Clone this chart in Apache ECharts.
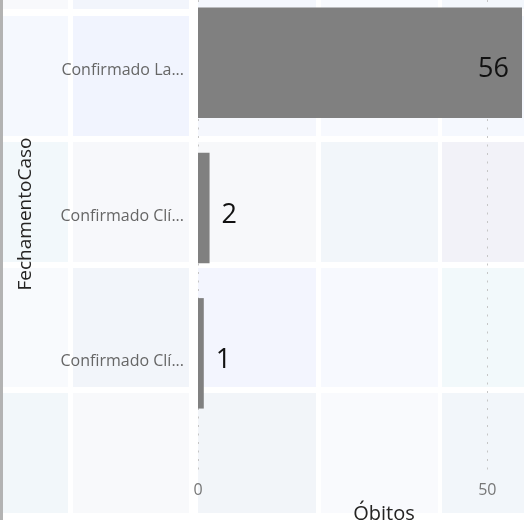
<!DOCTYPE html>
<html>
<head>
<meta charset="utf-8">
<script src="https://cdn.jsdelivr.net/npm/echarts@6/dist/echarts.min.js"></script>
<style>
  html, body { margin: 0; padding: 0; background: #ffffff; }
  #chart { width: 524px; height: 520px; }
</style>
</head>
<body>
<div id="chart"></div>
<script>
// ---- data ----
const categories = ['Confirmado Laboratorial', 'Confirmado Clínico-Epidemiológico', 'Confirmado Clínico-Imagem'];
const obitos = [56, 2, 1];
const xAxisTitle = 'Óbitos';
const yAxisTitle = 'FechamentoCaso';

// ---- decorative background mosaic ----
const tileCols = [[3, 68], [73, 189], [198, 316], [321, 438], [442, 530]];
const tileRows = [[-120, 9], [16, 136], [142, 262], [268, 387], [393, 513], [520, 640]];
const tileColors = [
  ['#f8f9fc', '#f2f5fc', '#f4f7fd', '#f8fafe', '#f3f7fc'],
  ['#f5f8fe', '#f1f4fe', '#f5f7fd', '#f7f9fe', '#f5f8fe'],
  ['#f2f8fb', '#f7f8fb', '#f7f8fa', '#f2f6fa', '#f2f2f8'],
  ['#f8fafd', '#f2f5fa', '#f3f5fe', '#f7f9fe', '#f2f9fb'],
  ['#f2f7fa', '#f8f9fb', '#f2f5f9', '#f9fafd', '#f2f6fa'],
  ['#f7f8fb', '#f3f6fb', '#f7f9fc', '#f3f7fb', '#f8f9fc']
];
const graphics = [];
tileRows.forEach((r, ri) => {
  tileCols.forEach((c, ci) => {
    graphics.push({
      type: 'rect', z: -100, silent: true,
      shape: { x: c[0], y: r[0], width: c[1] - c[0], height: r[1] - r[0] },
      style: { fill: tileColors[ri][ci] }
    });
  });
});
graphics.push({
  type: 'rect', z: -90, silent: true,
  shape: { x: 0, y: 0, width: 3, height: 520 },
  style: { fill: '#b3b3b3' }
});

const FONT = "'Open Sans', 'Noto Sans', sans-serif";
const chart = echarts.init(document.getElementById('chart'), null, { renderer: 'canvas' });

const barData = obitos.map(v => ({
  value: v,
  label: {
    position: v > 10 ? 'insideRight' : 'right',
    distance: v > 10 ? 13 : 12
  }
}));

chart.setOption({
  backgroundColor: 'transparent',
  animation: false,
  graphic: { elements: graphics },
  grid: [
    { left: 198, right: 2, top: -10, height: 436, containLabel: false, outerBoundsMode: 'none' },
    { left: 198, right: 2, top: 0, bottom: 47, containLabel: false, outerBoundsMode: 'none' }
  ],
  xAxis: [
    { gridIndex: 0, type: 'value', min: 0, max: 56, show: false },
    {
      gridIndex: 1, type: 'value', min: 0, max: 56, interval: 50,
      axisLine: { show: false }, axisTick: { show: false },
      axisLabel: { color: '#777777', fontFamily: FONT, fontSize: 16, margin: 9, showMaxLabel: false },
      splitLine: { show: true, showMaxLine: false, lineStyle: { color: '#c6c6c6', width: 1, type: [2, 6.5] } },
      name: xAxisTitle, nameLocation: 'middle', nameGap: 31,
      nameTextStyle: { color: '#252423', fontFamily: FONT, fontSize: 20, padding: [0, 0, 0, 48] }
    }
  ],
  yAxis: [
    {
      gridIndex: 0, type: 'category', inverse: true, data: categories,
      axisLine: { show: false }, axisTick: { show: false }, splitLine: { show: false },
      axisLabel: {
        color: '#666666', fontFamily: FONT, fontSize: 16, margin: 14,
        width: 134, overflow: 'truncate', ellipsis: '...',
        verticalAlign: 'top', lineHeight: 16
      },
      name: yAxisTitle, nameLocation: 'middle', nameGap: 151,
      nameTextStyle: { color: '#252423', fontFamily: FONT, fontSize: 19, padding: [0, 12, 12, 0] }
    },
    { gridIndex: 1, type: 'value', min: 0, max: 1, show: false }
  ],
  series: [
    {
      type: 'bar', xAxisIndex: 0, yAxisIndex: 0,
      data: barData,
      barCategoryGap: '24%',
      itemStyle: { color: '#808080' },
      label: { show: true, color: '#111111', fontFamily: FONT, fontSize: 27, offset: [0, 7] }
    }
  ]
});
</script>
</body>
</html>
